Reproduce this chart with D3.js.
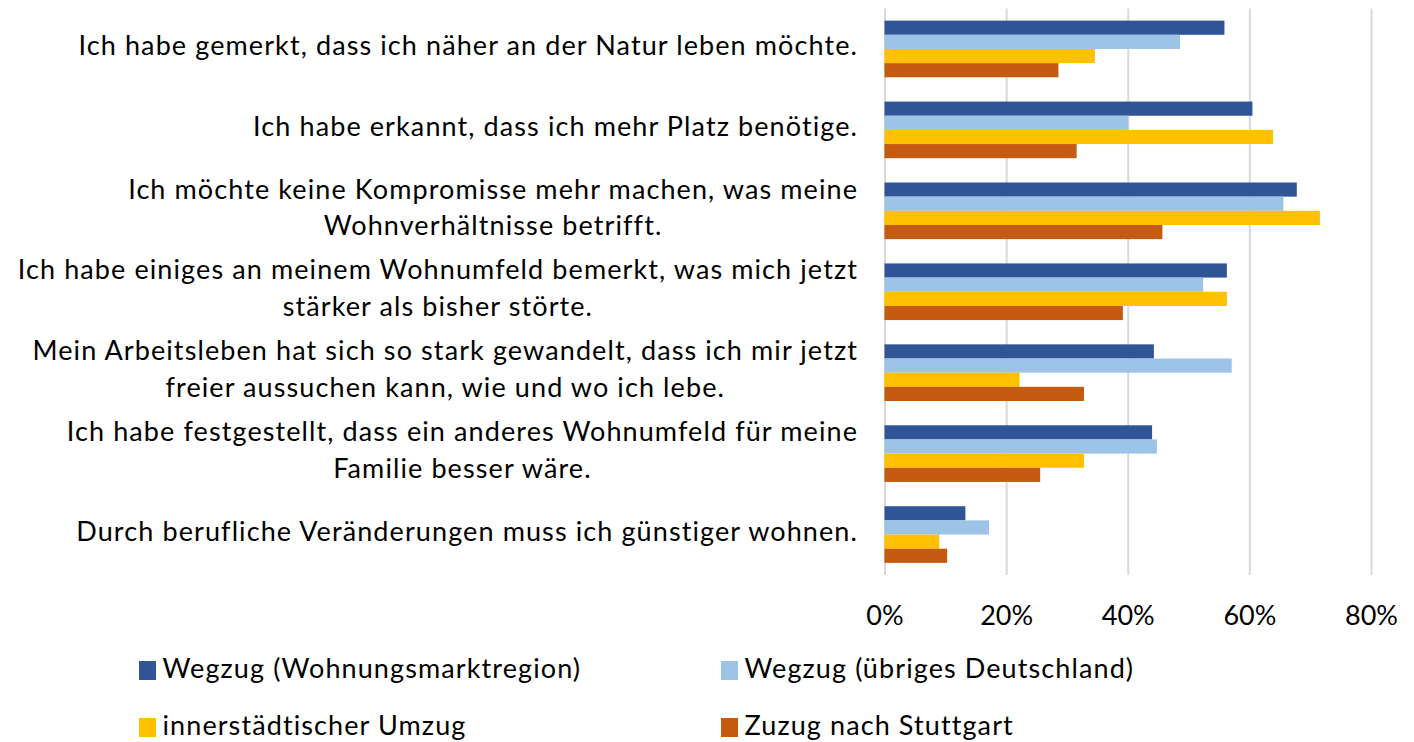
<!DOCTYPE html>
<html>
<head>
<meta charset="utf-8">
<script src="https://cdn.jsdelivr.net/npm/d3@7"></script>
<style>
  html, body { margin: 0; padding: 0; background: #fff; }
  svg text { font-family: Lato, "Open Sans", sans-serif; fill: #000; }
</style>
</head>
<body>
<div id="chart"></div>
<script>
// categories, one entry per line of the wrapped label
const categories = [
  ["Ich habe gemerkt, dass ich näher an der Natur leben möchte."],
  ["Ich habe erkannt, dass ich mehr Platz benötige."],
  ["Ich möchte keine Kompromisse mehr machen, was meine", "Wohnverhältnisse betrifft."],
  ["Ich habe einiges an meinem Wohnumfeld bemerkt, was mich jetzt", "stärker als bisher störte."],
  ["Mein Arbeitsleben hat sich so stark gewandelt, dass ich mir jetzt", "freier aussuchen kann, wie und wo ich lebe."],
  ["Ich habe festgestellt, dass ein anderes Wohnumfeld für meine", "Familie besser wäre."],
  ["Durch berufliche Veränderungen muss ich günstiger wohnen."]
];

const seriesNames = [
  "Wegzug (Wohnungsmarktregion)",
  "Wegzug (übriges Deutschland)",
  "innerstädtischer Umzug",
  "Zuzug nach Stuttgart"
];
const seriesColors = ["#2F5597", "#9DC3E6", "#FFC000", "#C55A11"];

const wegzugRegion  = [0.559, 0.605, 0.678, 0.563, 0.443, 0.440, 0.133];
const wegzugDeutsch = [0.486, 0.401, 0.656, 0.524, 0.571, 0.448, 0.172];
const innerstadt    = [0.346, 0.639, 0.716, 0.563, 0.222, 0.328, 0.090];
const zuzug         = [0.286, 0.316, 0.457, 0.392, 0.328, 0.256, 0.103];
const seriesValues  = [wegzugRegion, wegzugDeutsch, innerstadt, zuzug];

const xTicks = [0, 0.2, 0.4, 0.6, 0.8];

const W = 1414, H = 742;
const FONT = 27;
const SPACING = 1.1;
const plot = { left: 884.5, right: 1371, top: 8.5, bottom: 575 };
const labelRight = 858;

const svg = d3.select("#chart").append("svg")
  .attr("width", W).attr("height", H)
  .attr("viewBox", `0 0 ${W} ${H}`);

// scales
const x = d3.scaleLinear().domain([0, 0.8]).range([plot.left, plot.right]);
const y0 = d3.scaleBand()
  .domain(d3.range(categories.length))
  .range([plot.top, plot.bottom])
  .paddingInner(0.3).paddingOuter(0.15);
const y1 = d3.scaleBand()
  .domain(d3.range(seriesNames.length))
  .range([0, y0.bandwidth()]);

// gridlines
svg.append("g")
  .attr("transform", `translate(0,${plot.top})`)
  .call(d3.axisTop(x).tickValues(xTicks).tickSize(-(plot.bottom - plot.top)).tickFormat(""))
  .call(g => g.select(".domain").remove())
  .call(g => g.selectAll(".tick line").attr("stroke", "#D9D9D9").attr("stroke-width", 2));

// bars
const rows = categories.map((c, i) => ({ i, vals: seriesValues.map(s => s[i]) }));
svg.append("g").selectAll("g").data(rows).join("g")
  .attr("transform", d => `translate(0,${y0(d.i)})`)
  .selectAll("rect").data(d => d.vals.map((v, k) => ({ v, k }))).join("rect")
  .attr("x", x(0))
  .attr("y", d => y1(d.k))
  .attr("width", d => x(d.v) - x(0))
  .attr("height", y1.bandwidth())
  .attr("fill", d => seriesColors[d.k]);

// x axis labels
svg.append("g")
  .attr("transform", `translate(0,${plot.bottom})`)
  .call(d3.axisBottom(x).tickValues(xTicks).tickFormat(d3.format(".0%")).tickSize(0))
  .call(g => g.select(".domain").remove())
  .call(g => g.selectAll("text")
    .attr("font-size", FONT).attr("fill", "#000")
    .attr("font-family", "Lato, 'Open Sans', sans-serif")
    .attr("dy", null).attr("y", 49.5));

// category labels: block right-aligned, lines centred within it
const lineGap = 36.6;
const labels = svg.append("g").selectAll("text").data(categories).join("text")
  .attr("font-size", FONT)
  .attr("letter-spacing", SPACING)
  .attr("text-anchor", "middle");

labels.each(function (lines, i) {
  const t = d3.select(this);
  const cy = y0(i) + y0.bandwidth() / 2 + 6;
  const spans = lines.map((ln, j) => t.append("tspan")
    .attr("y", cy + (j - (lines.length - 1) / 2) * lineGap)
    .text(ln));
  const maxW = d3.max(spans, s => s.node().getComputedTextLength());
  spans.forEach(s => s.attr("x", labelRight - maxW / 2));
});

// legend
const legendCols = [139, 721];
const legendRows = [661, 718];
const leg = svg.append("g").selectAll("g").data(seriesNames).join("g")
  .attr("transform", (d, k) => `translate(${legendCols[k % 2]},${legendRows[Math.floor(k / 2)]})`);
leg.append("rect")
  .attr("width", 17).attr("height", 19)
  .attr("fill", (d, k) => seriesColors[k]);
leg.append("text")
  .attr("x", 23.5).attr("y", 17)
  .attr("font-size", FONT)
  .attr("letter-spacing", SPACING)
  .text(d => d);
</script>
</body>
</html>
